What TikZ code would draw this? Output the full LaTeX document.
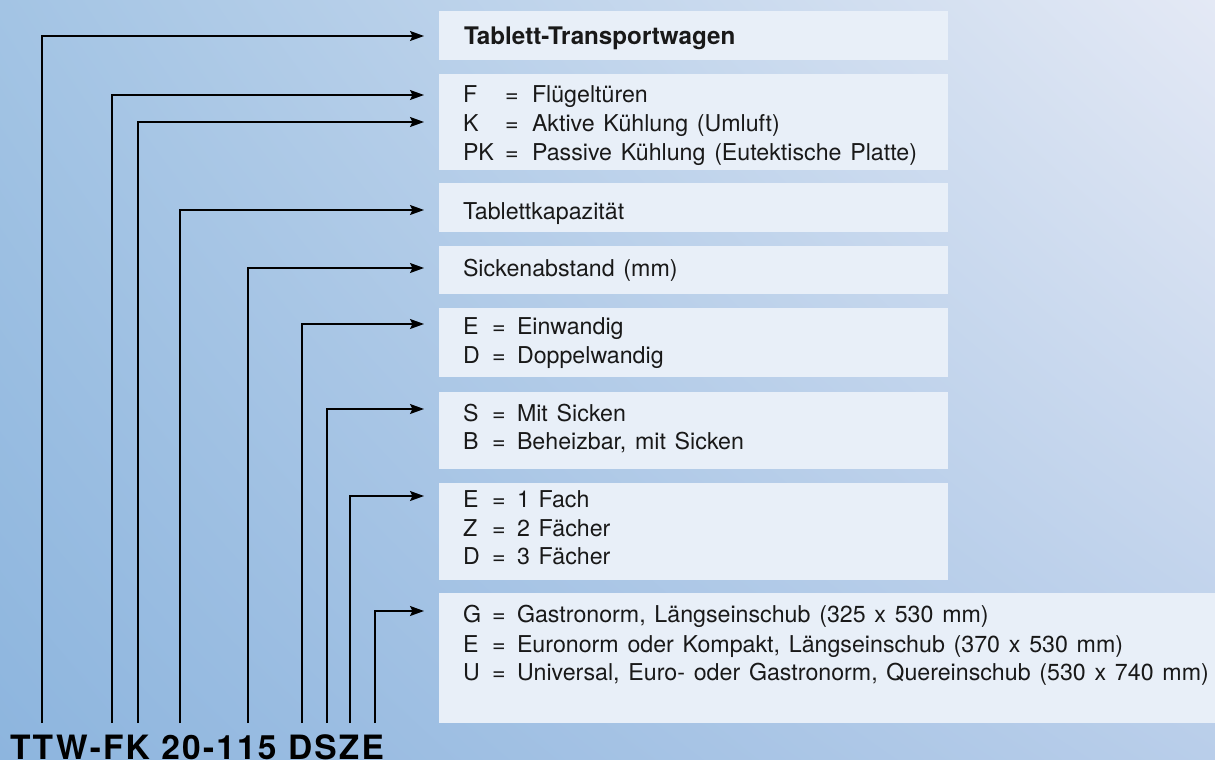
\documentclass[tikz,border=0pt]{standalone}
\usepackage{fontspec}
\setmainfont{TeX Gyre Heros}
\newfontfamily\bodyfont{TeX Gyre Heros}[WordSpace=1.36]
\usetikzlibrary{arrows.meta,shadings}
\definecolor{boxfill}{RGB}{232,239,248}
\definecolor{txtcol}{RGB}{25,25,25}
\definecolor{bgUL}{RGB}{163,196,228}
\definecolor{bgUR}{RGB}{228,233,245}
\definecolor{bgLL}{RGB}{141,181,222}
\definecolor{bgLR}{RGB}{185,206,234}
\tikzset{
  box/.style={fill=boxfill, draw=none, inner sep=0pt, outer sep=0pt, anchor=north west, minimum width=509pt},
  conn/.style={draw=black, line width=1.4pt, -{Stealth[length=14pt,width=10pt,inset=2.5pt]}},
  txt/.style={anchor=base west, inner sep=0pt, outer sep=0pt, text=txtcol, font=\bodyfont\fontsize{23.2}{27}\selectfont},
  boldtxt/.style={txt, font=\fontsize{24.2}{27}\selectfont\bfseries},
  titletxt/.style={anchor=base west, inner sep=0pt, outer sep=0pt, text=black, font=\fontsize{33.5}{40}\selectfont\bfseries\addfontfeature{LetterSpace=6.5}},
}
\begin{document}
\begin{tikzpicture}[x=1pt,y=-1pt]
\useasboundingbox (0,0) rectangle (1215,760);
\shade[upper left=bgUL, upper right=bgUR, lower left=bgLL, lower right=bgLR] (0,0) rectangle (1215,760);

% boxes
\node[box, minimum height=49pt] (b1) at (439,11) {};
\node[box, minimum height=96pt] (b2) at (439,74) {};
\node[box, minimum height=49pt] (b3) at (439,183) {};
\node[box, minimum height=48pt] (b4) at (439,246) {};
\node[box, minimum height=69pt] (b5) at (439,308) {};
\node[box, minimum height=77pt] (b6) at (439,392) {};
\node[box, minimum height=97pt] (b7) at (439,483) {};
\node[box, minimum height=130pt, minimum width=776pt] (b8) at (439,593) {};

% texts
\node[boldtxt] (t1) at (464,45) {Tablett-Transportwagen};

\node[txt] (t2a) at (463,102.5) {F};
\node[txt] (t2b) at (505,102.5) {=};
\node[txt] (t2c) at (532,102.5) {Flügeltüren};
\node[txt] (t2d) at (463,131) {K};
\node[txt] (t2e) at (505,131) {=};
\node[txt] (t2f) at (532,131) {Aktive Kühlung (Umluft)};
\node[txt] (t2g) at (463,160) {PK};
\node[txt] (t2h) at (505,160) {=};
\node[txt] (t2i) at (532,160) {Passive Kühlung (Eutektische Platte)};

\node[txt] (t3) at (463,219) {Tablettkapazität};
\node[txt] (t4) at (463,276) {Sickenabstand (mm)};

\node[txt] (t5a) at (463,334.5) {E};
\node[txt] (t5b) at (492,334.5) {=};
\node[txt] (t5c) at (517,334.5) {Einwandig};
\node[txt] (t5d) at (463,363.5) {D};
\node[txt] (t5e) at (492,363.5) {=};
\node[txt] (t5f) at (517,363.5) {Doppelwandig};

\node[txt] (t6a) at (463,421.5) {S};
\node[txt] (t6b) at (492,421.5) {=};
\node[txt] (t6c) at (517,421.5) {Mit Sicken};
\node[txt] (t6d) at (463,449.5) {B};
\node[txt] (t6e) at (492,449.5) {=};
\node[txt] (t6f) at (517,449.5) {Beheizbar, mit Sicken};

\node[txt] (t7a) at (463,507) {E};
\node[txt] (t7b) at (492,507) {=};
\node[txt] (t7c) at (517,507) {1 Fach};
\node[txt] (t7d) at (463,536) {Z};
\node[txt] (t7e) at (492,536) {=};
\node[txt] (t7f) at (517,536) {2 Fächer};
\node[txt] (t7g) at (463,564) {D};
\node[txt] (t7h) at (492,564) {=};
\node[txt] (t7i) at (517,564) {3 Fächer};

\node[txt] (t8a) at (463,622) {G};
\node[txt] (t8b) at (492,622) {=};
\node[txt] (t8c) at (517,622) {Gastronorm, Längseinschub (325 x 530 mm)};
\node[txt] (t8d) at (463,652) {E};
\node[txt] (t8e) at (492,652) {=};
\node[txt] (t8f) at (517,652) {Euronorm oder Kompakt, Längseinschub (370 x 530 mm)};
\node[txt] (t8g) at (463,680) {U};
\node[txt] (t8h) at (492,680) {=};
\node[txt] (t8i) at (517,680) {Universal, Euro- oder Gastronorm, Quereinschub (530 x 740 mm)};

% title
\node[titletxt] (title) at (10,759) {TTW-FK 20-115 DSZE};

% connector ends
\coordinate (s1) at (42,723);
\coordinate (s2) at (112,723);
\coordinate (s3) at (138,723);
\coordinate (s4) at (180,723);
\coordinate (s5) at (248,723);
\coordinate (s6) at (302,723);
\coordinate (s7) at (327,723);
\coordinate (s8) at (350,723);
\coordinate (s9) at (375,723);
\coordinate (e1) at (424,36);
\coordinate (e2) at (424,95);
\coordinate (e3) at (424,122);
\coordinate (e4) at (424,210);
\coordinate (e5) at (424,268);
\coordinate (e6) at (424,324);
\coordinate (e7) at (424,409);
\coordinate (e8) at (424,496);
\coordinate (e9) at (424,611);

\draw[conn] (s1) |- (e1);
\draw[conn] (s2) |- (e2);
\draw[conn] (s3) |- (e3);
\draw[conn] (s4) |- (e4);
\draw[conn] (s5) |- (e5);
\draw[conn] (s6) |- (e6);
\draw[conn] (s7) |- (e7);
\draw[conn] (s8) |- (e8);
\draw[conn] (s9) |- (e9);
\end{tikzpicture}
\end{document}
